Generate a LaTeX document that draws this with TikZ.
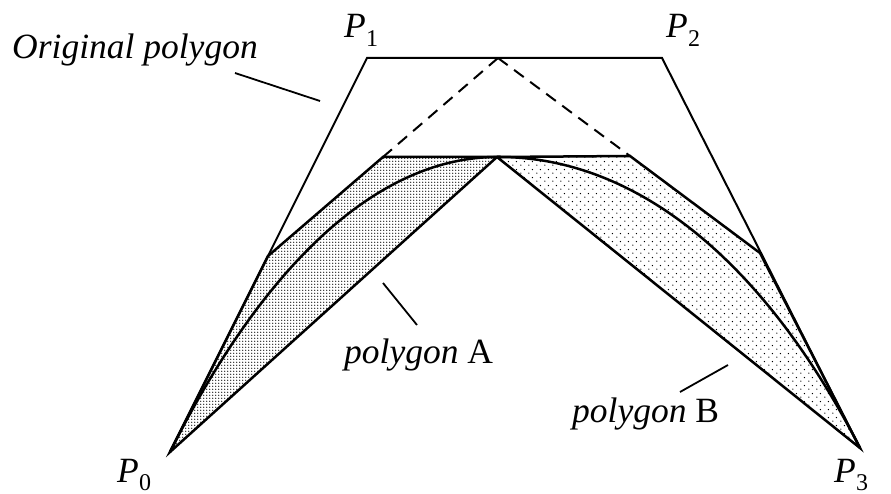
\documentclass[tikz,border=0pt]{standalone}
\usepackage{fontspec}
\setmainfont{Liberation Serif}
\usetikzlibrary{patterns}
\pgfdeclarepatternformonly{densedots}{\pgfqpoint{-1pt}{-1pt}}{\pgfqpoint{2pt}{2pt}}{\pgfqpoint{3pt}{3pt}}{\pgfpathcircle{\pgfqpoint{0pt}{0pt}}{0.8pt}\pgfusepath{fill}}
\pgfdeclarepatternformonly{sparsedots}{\pgfqpoint{0pt}{0pt}}{\pgfqpoint{8pt}{8pt}}{\pgfqpoint{8pt}{8pt}}{\pgfpathcircle{\pgfqpoint{1pt}{1pt}}{0.8pt}\pgfpathcircle{\pgfqpoint{5pt}{5pt}}{0.8pt}\pgfusepath{fill}}
\begin{document}
\begin{tikzpicture}[x=1pt,y=-1pt,
  orig/.style={line width=2pt},
  poly/.style={line width=2.5pt},
  leader/.style={line width=1.8pt},
  dashline/.style={line width=2pt, dash pattern=on 12pt off 8pt},
  lbl/.style={font=\fontsize{35.5}{42}\selectfont, inner sep=0pt, anchor=base west},
  sub/.style={font=\fontsize{24}{28}\selectfont, inner sep=0pt, anchor=base west}]
\useasboundingbox (0,0) rectangle (891,494);
\coordinate (P0) at (170,452);
\coordinate (P1) at (367,58);
\coordinate (P2) at (662,58);
\coordinate (P3) at (860,448);
\coordinate (M) at (498,58);
\coordinate (A1) at (268,256);
\coordinate (A2) at (383,157);
\coordinate (C) at (497,157);
\coordinate (B1) at (630,156);
\coordinate (B2) at (760,253);
% fills
\fill[pattern=densedots] (P0) -- (A1) -- (A2) -- (C) -- cycle;
\fill[pattern=sparsedots] (C) -- (B1) -- (B2) -- (P3) -- cycle;
% curves
\draw[poly] (P0) .. controls (A1) and (A2) .. (C);
\draw[poly] (C) .. controls (B1) and (B2) .. (P3);
% sub-polygons
\draw[poly] (P0) -- (A1) -- (A2) -- (C) -- cycle;
\draw[poly] (C) -- (B1) -- (B2) -- (P3) -- cycle;
% original polygon
\draw[orig] (P0) -- (P1) -- (P2) -- (P3);
\draw[dashline] (M) -- (A2);
\draw[dashline] (M) -- (B1);
% labels
\node[lbl] (lorig) at (12,59) {\itshape Original polygon};
\node[lbl] (lp1) at (344,38) {\itshape P};
\node[sub] (lp1s) at (366,47) {1};
\node[lbl] (lp2) at (666,38) {\itshape P};
\node[sub] (lp2s) at (688,47) {2};
\node[lbl] (lp0) at (117,482) {\itshape P};
\node[sub] (lp0s) at (139,490) {0};
\node[lbl] (lp3) at (834,482) {\itshape P};
\node[sub] (lp3s) at (856,490) {3};
\node[lbl] (lpa) at (344,363) {\textit{polygon} A};
\node[lbl] (lpb) at (572,422) {\textit{polygon} B};
% leader lines
\coordinate (lo1) at (235,73);
\coordinate (lo2) at (320,101);
\coordinate (la1) at (383,283);
\coordinate (la2) at (417,325);
\coordinate (lb1) at (680,392);
\coordinate (lb2) at (728,365);
\draw[leader] (lo1) -- (lo2);
\draw[leader] (la1) -- (la2);
\draw[leader] (lb1) -- (lb2);
\end{tikzpicture}
\end{document}
